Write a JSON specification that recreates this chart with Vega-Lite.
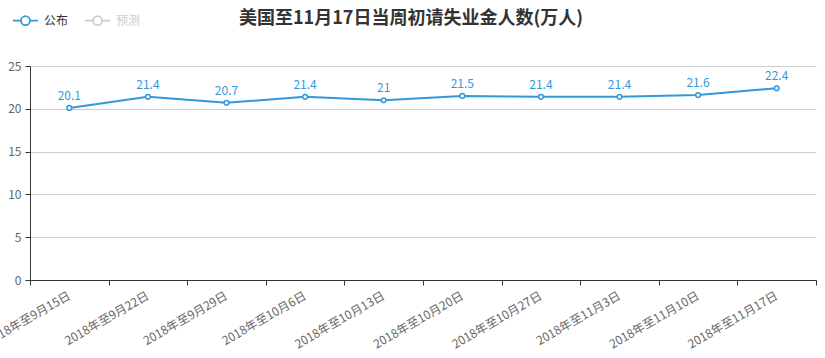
{
  "$schema": "https://vega.github.io/schema/vega-lite/v6.json",
  "width": 786,
  "height": 214,
  "autosize": {"type": "none"},
  "padding": {"left": 30, "top": 66, "right": 9, "bottom": 78},
  "background": "white",
  "config": {
    "view": {"stroke": null},
    "font": "Noto Sans CJK SC"
  },
  "title": {
    "text": "美国至11月17日当周初请失业金人数(万人)",
    "fontSize": 18,
    "fontWeight": "bold",
    "color": "#333",
    "anchor": "middle",
    "frame": "group",
    "dx": -12,
    "offset": -21
  },
  "data": {
    "values": [
      {"date": "2018年至9月15日", "value": 20.1, "series": "公布"},
      {"date": "2018年至9月22日", "value": 21.4, "series": "公布"},
      {"date": "2018年至9月29日", "value": 20.7, "series": "公布"},
      {"date": "2018年至10月6日", "value": 21.4, "series": "公布"},
      {"date": "2018年至10月13日", "value": 21, "series": "公布"},
      {"date": "2018年至10月20日", "value": 21.5, "series": "公布"},
      {"date": "2018年至10月27日", "value": 21.4, "series": "公布"},
      {"date": "2018年至11月3日", "value": 21.4, "series": "公布"},
      {"date": "2018年至11月10日", "value": 21.6, "series": "公布"},
      {"date": "2018年至11月17日", "value": 22.4, "series": "公布"}
    ]
  },
  "encoding": {
    "x": {
      "field": "date",
      "type": "nominal",
      "sort": null,
      "scale": {"paddingInner": 0, "paddingOuter": 0},
      "axis": {
        "title": null,
        "labelAngle": -30,
        "labelAlign": "right",
        "labelBaseline": "top",
        "labelFontSize": 12,
        "labelColor": "#666",
        "labelPadding": 5,
        "labelOffset": -3,
        "domainColor": "#333",
        "tickColor": "#333",
        "tickSize": 5,
        "tickBand": "extent",
        "grid": false,
        "labelOverlap": false
      }
    },
    "y": {
      "field": "value",
      "type": "quantitative",
      "scale": {"domain": [0, 25]},
      "axis": {
        "title": null,
        "values": [0, 5, 10, 15, 20, 25],
        "labelFontSize": 12,
        "labelColor": "#666",
        "labelPadding": 4,
        "domainColor": "#333",
        "tickColor": "#333",
        "tickSize": 5,
        "gridColor": "#ccc",
        "grid": true
      }
    }
  },
  "layer": [
    {
      "mark": {"type": "line", "strokeWidth": 2},
      "encoding": {
        "color": {
          "field": "series",
          "type": "nominal",
          "scale": {"domain": ["公布", "预测"], "range": ["#3398DB", "#cccccc"]},
          "legend": {
            "title": null,
            "orient": "none",
            "direction": "horizontal",
            "legendX": -18,
            "legendY": -59,
            "symbolType": "M-1,0L-0.36,0M0.36,0L1,0M0.36,0A0.36,0.36,0,1,1,-0.36,0A0.36,0.36,0,1,1,0.36,0Z",
            "symbolSize": 625,
            "symbolStrokeWidth": 1.8,
            "symbolFillColor": "white",
            "labelFontSize": 12,
            "labelOffset": 5,
            "columnPadding": 12,
            "encode": {
              "symbols": {"update": {"fill": {"value": "white"}}},
              "labels": {"update": {"fill": {"signal": "datum.value === '预测' ? '#ccc' : '#333'"}}}
            }
          }
        }
      }
    },
    {
      "mark": {"type": "point", "filled": true, "fill": "white", "stroke": "#3398DB", "strokeWidth": 1.5, "size": 22, "opacity": 1}
    },
    {
      "mark": {"type": "text", "dy": -12, "fontSize": 12, "color": "#3398DB"},
      "encoding": {"text": {"field": "value", "type": "quantitative"}}
    }
  ]
}
